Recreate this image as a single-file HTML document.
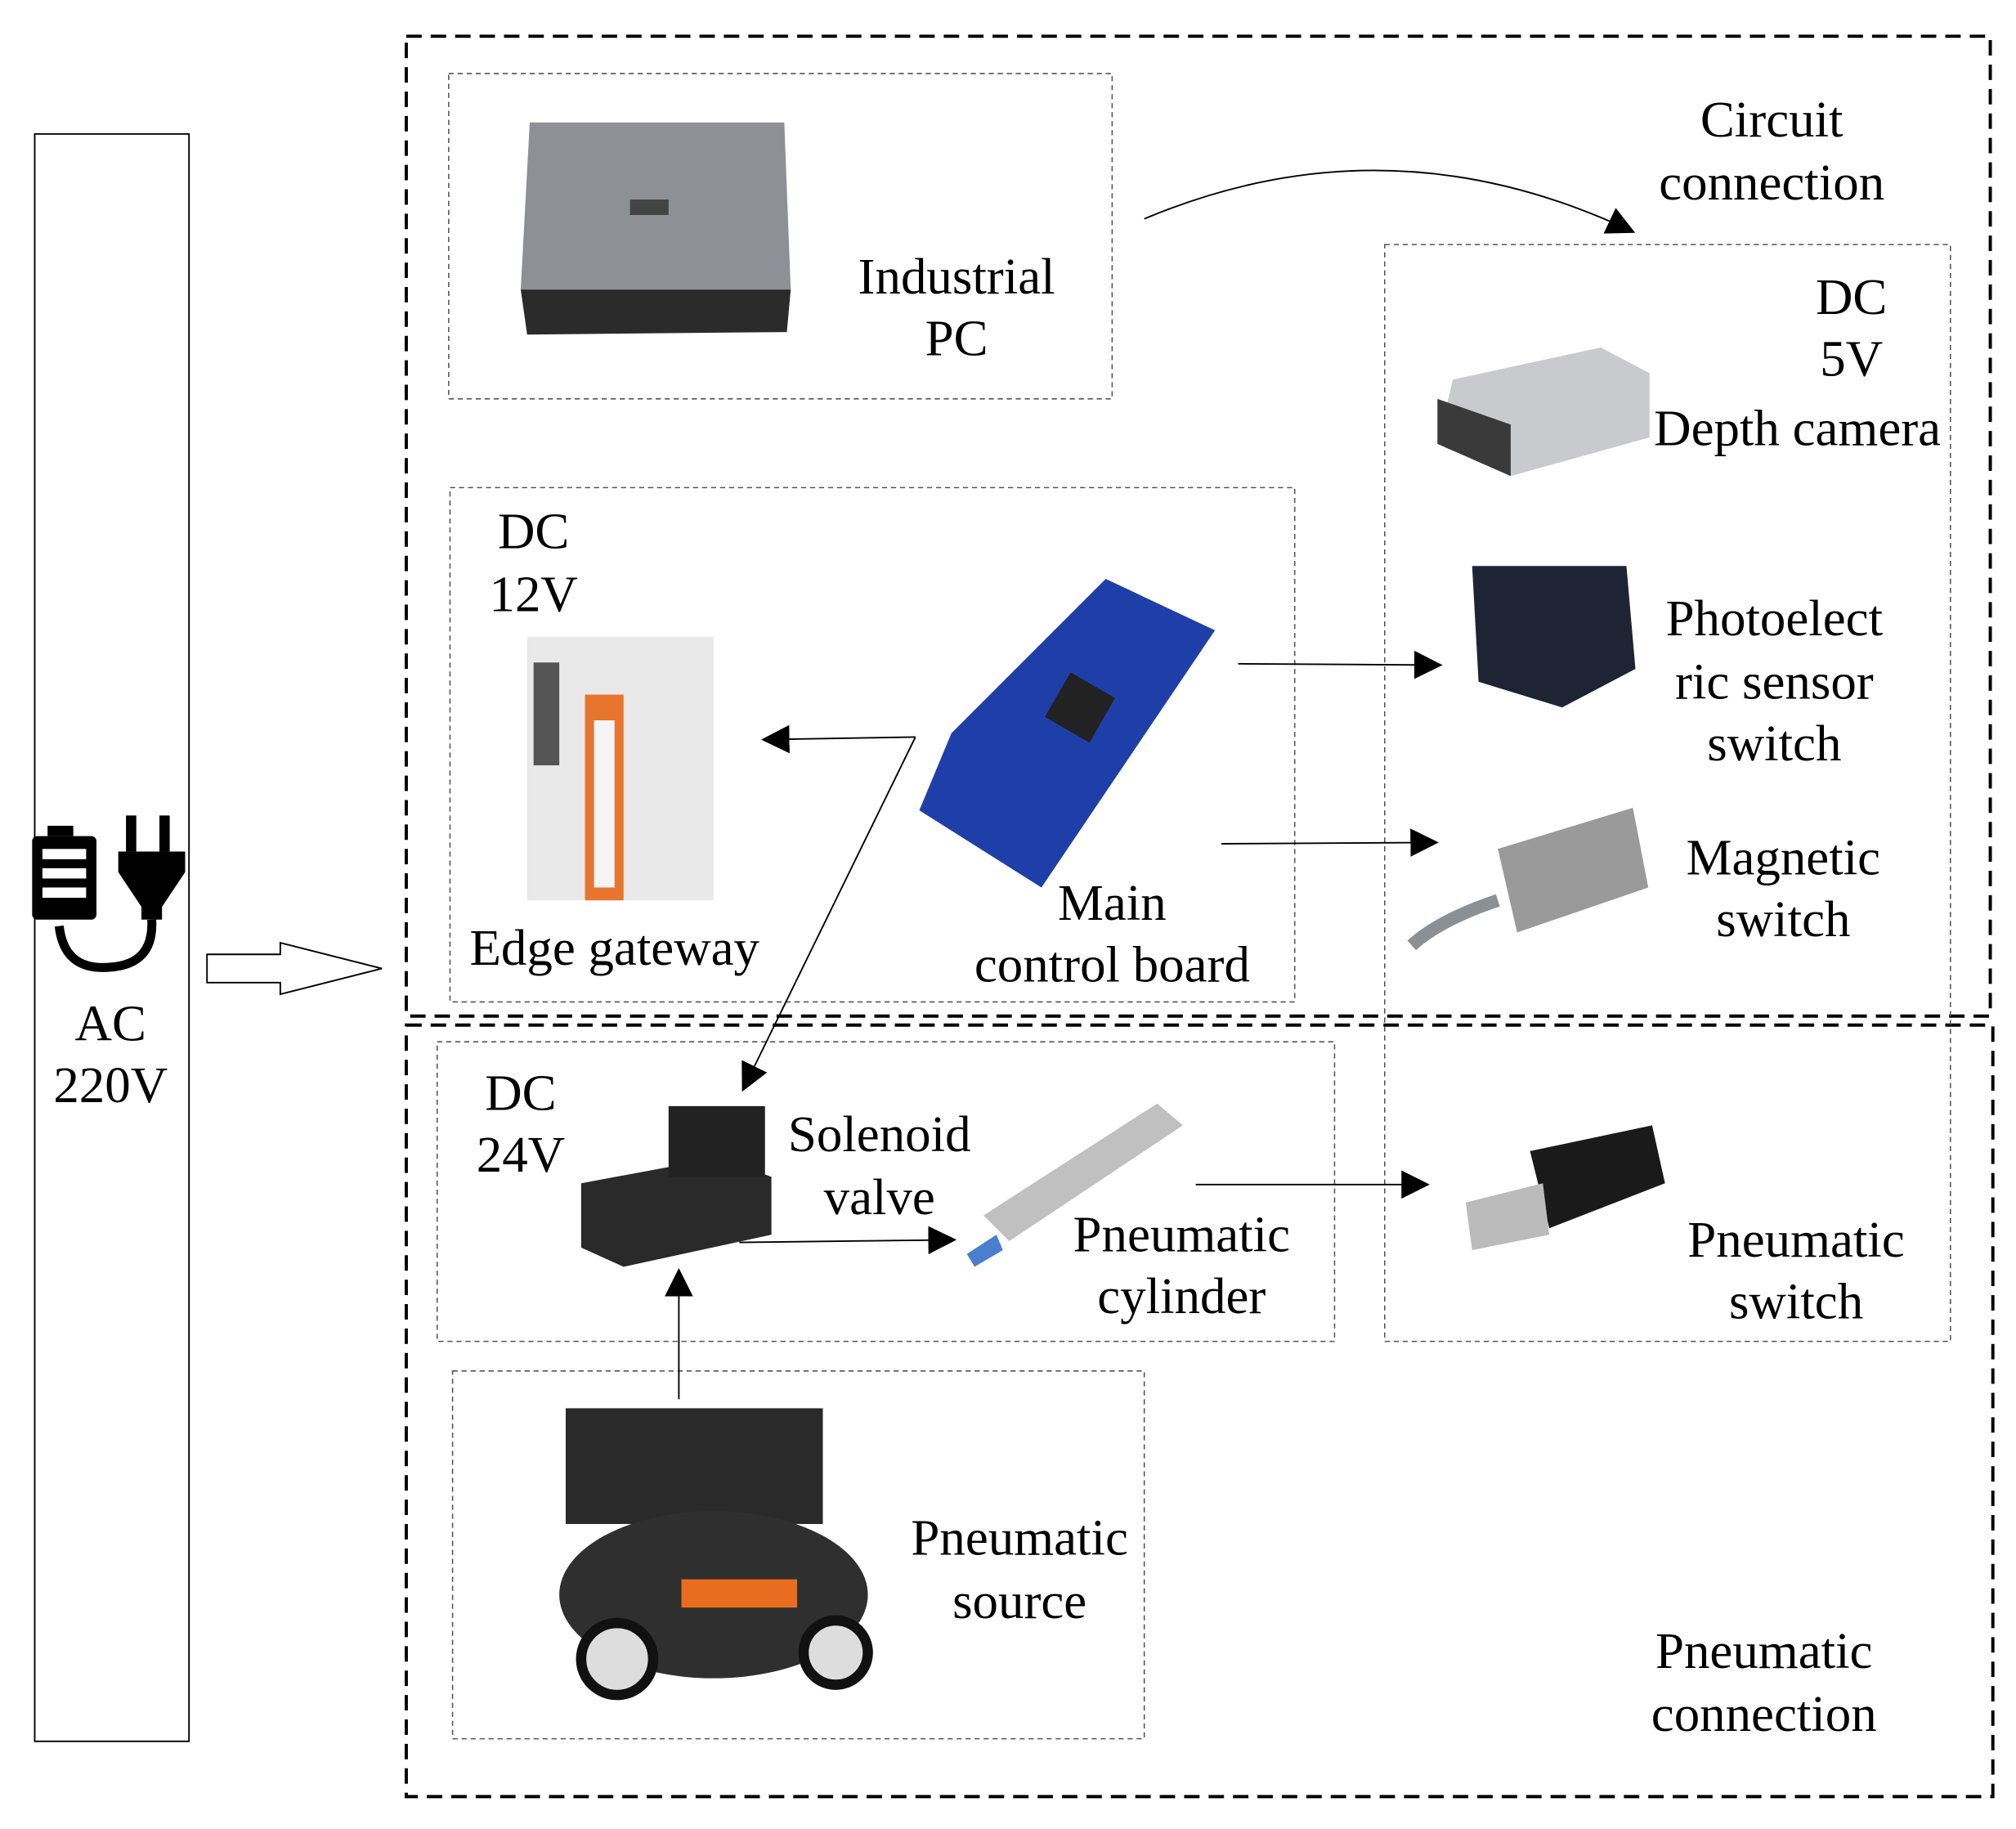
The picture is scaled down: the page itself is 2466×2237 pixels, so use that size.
<!DOCTYPE html>
<html><head><meta charset="utf-8"><style>
html,body{margin:0;padding:0;background:#fff;}
svg{display:block;}
text{font-family:"Liberation Serif",serif;font-size:40px;fill:#000;text-anchor:middle;}
</style></head><body>
<svg width="2466" height="2237" viewBox="0 0 1568 1422" xmlns="http://www.w3.org/2000/svg">
<defs>
<marker id="ahb" markerWidth="22" markerHeight="22" refX="20" refY="11" orient="auto" markerUnits="userSpaceOnUse" viewBox="0 0 22 22">
<path d="M0,0 L22,11 L0,22 z" fill="#000"/></marker>
</defs>
<rect x="27" y="104" width="120" height="1250" fill="none" stroke="#000" stroke-width="1.2"/>
<g fill="#000">
<rect x="37" y="642" width="20" height="8"/>
<rect x="25" y="650" width="50" height="65" rx="4"/>
<rect x="33" y="660" width="34" height="8" fill="#fff"/>
<rect x="33" y="675" width="34" height="8" fill="#fff"/>
<rect x="33" y="690" width="34" height="8" fill="#fff"/>
<rect x="98" y="634" width="8" height="28"/>
<rect x="124" y="634" width="8" height="28"/>
<path d="M92,662 L144,662 L144,678 L126,705 L126,715 L110,715 L110,705 L92,678 z"/>
</g>
<path d="M46,720 Q50,755 85,752 Q120,750 118,715" fill="none" stroke="#000" stroke-width="7"/>
<text x="86" y="809">AC</text>
<text x="86" y="857">220V</text>
<path d="M161,742 L218,742 L218,733 L297,753 L218,773 L218,764 L161,764 z" fill="#fff" stroke="#000" stroke-width="1.2"/>
<rect x="316" y="28" width="1232" height="762" fill="none" stroke="#000" stroke-width="2.5" stroke-dasharray="12,7"/>
<rect x="316" y="797" width="1234" height="600" fill="none" stroke="#000" stroke-width="2.5" stroke-dasharray="12,7"/>
<g fill="none" stroke="#555" stroke-width="1" stroke-dasharray="4,3">
<rect x="349" y="57" width="516" height="253"/>
<rect x="1077" y="190" width="440" height="853"/>
<rect x="350" y="379" width="657" height="400"/>
<rect x="340" y="810" width="698" height="233"/>
<rect x="352" y="1066" width="538" height="286"/>
</g>
<path d="M412,95 L610,95 L615,225 L405,225 z" fill="#8d9094"/>
<path d="M405,225 L615,225 L612,258 L410,260 z" fill="#2b2b2b"/>
<rect x="490" y="155" width="30" height="12" fill="#444"/>
<text x="744" y="228">Industrial</text>
<text x="744" y="276">PC</text>
<path d="M890,170 Q1080,90 1270,180" fill="none" stroke="#000" stroke-width="1.2" marker-end="url(#ahb)"/>
<text x="1378" y="106">Circuit</text>
<text x="1378" y="155">connection</text>
<text x="1440" y="244">DC</text>
<text x="1440" y="292">5V</text>
<text x="1398" y="346">Depth camera</text>
<path d="M1130,295 L1245,270 L1283,290 L1283,340 L1175,370 L1118,345 z" fill="#c9cacc"/>
<path d="M1118,310 L1175,330 L1175,370 L1118,345 z" fill="#3a3a3a"/>
<path d="M1145,440 L1265,440 L1272,520 L1215,550 L1150,530 z" fill="#1e2433"/>
<text x="1380" y="494">Photoelect</text>
<text x="1380" y="543">ric sensor</text>
<text x="1380" y="591">switch</text>
<path d="M1098,735 Q1120,715 1165,700" fill="none" stroke="#8a9094" stroke-width="10"/>
<path d="M1165,660 L1270,628 L1282,690 L1180,725 z" fill="#9a9a9a"/>
<text x="1387" y="680">Magnetic</text>
<text x="1387" y="728">switch</text>
<text x="415" y="426">DC</text>
<text x="415" y="475">12V</text>
<rect x="410" y="495" width="145" height="205" fill="#e9e9e9"/>
<rect x="455" y="540" width="30" height="160" fill="#e8752e"/>
<rect x="462" y="560" width="16" height="130" fill="#f5f5f5"/>
<rect x="415" y="515" width="20" height="80" fill="#555"/>
<text x="478" y="750">Edge gateway</text>
<path d="M740,570 L860,450 L945,490 L810,690 L715,630 z" fill="#1f3fa8"/>
<rect x="820" y="530" width="40" height="40" fill="#222" transform="rotate(30 840 550)"/>
<text x="865" y="715">Main</text>
<text x="865" y="763">control board</text>
<g stroke="#000" stroke-width="1.2" fill="none">
<line x1="963" y1="516" x2="1120" y2="517" marker-end="url(#ahb)"/>
<line x1="950" y1="656" x2="1117" y2="655" marker-end="url(#ahb)"/>
<line x1="712" y1="573" x2="594" y2="575" marker-end="url(#ahb)"/>
<line x1="712" y1="573" x2="578" y2="847" marker-end="url(#ahb)"/>
<line x1="575" y1="966" x2="742" y2="964" marker-end="url(#ahb)"/>
<line x1="930" y1="921" x2="1110" y2="921" marker-end="url(#ahb)"/>
<line x1="528" y1="1088" x2="528" y2="988" marker-end="url(#ahb)"/>
</g>
<text x="405" y="863">DC</text>
<text x="405" y="911">24V</text>
<path d="M452,920 L560,900 L600,915 L600,960 L485,985 L452,970 z" fill="#2a2a2a"/>
<rect x="520" y="860" width="75" height="55" fill="#222"/>
<text x="684" y="895">Solenoid</text>
<text x="684" y="944">valve</text>
<path d="M765,945 L900,858 L920,875 L785,965 z" fill="#c0c0c0"/>
<path d="M752,975 L775,960 L780,972 L758,985 z" fill="#4a7fd0"/>
<text x="919" y="973">Pneumatic</text>
<text x="919" y="1021">cylinder</text>
<path d="M1190,895 L1285,875 L1295,920 L1205,955 z" fill="#1a1a1a"/>
<path d="M1140,935 L1200,920 L1205,960 L1145,972 z" fill="#bbb"/>
<text x="1397" y="977">Pneumatic</text>
<text x="1397" y="1025">switch</text>
<rect x="440" y="1095" width="200" height="90" fill="#2a2a2a"/>
<ellipse cx="555" cy="1240" rx="120" ry="65" fill="#2f2f2f"/>
<rect x="530" y="1228" width="90" height="22" fill="#e86d1f"/>
<circle cx="480" cy="1290" r="28" fill="#ddd" stroke="#111" stroke-width="8"/>
<circle cx="650" cy="1285" r="25" fill="#ddd" stroke="#111" stroke-width="8"/>
<text x="793" y="1209">Pneumatic</text>
<text x="793" y="1258">source</text>
<text x="1372" y="1297">Pneumatic</text>
<text x="1372" y="1346">connection</text>
</svg>
</body></html>
